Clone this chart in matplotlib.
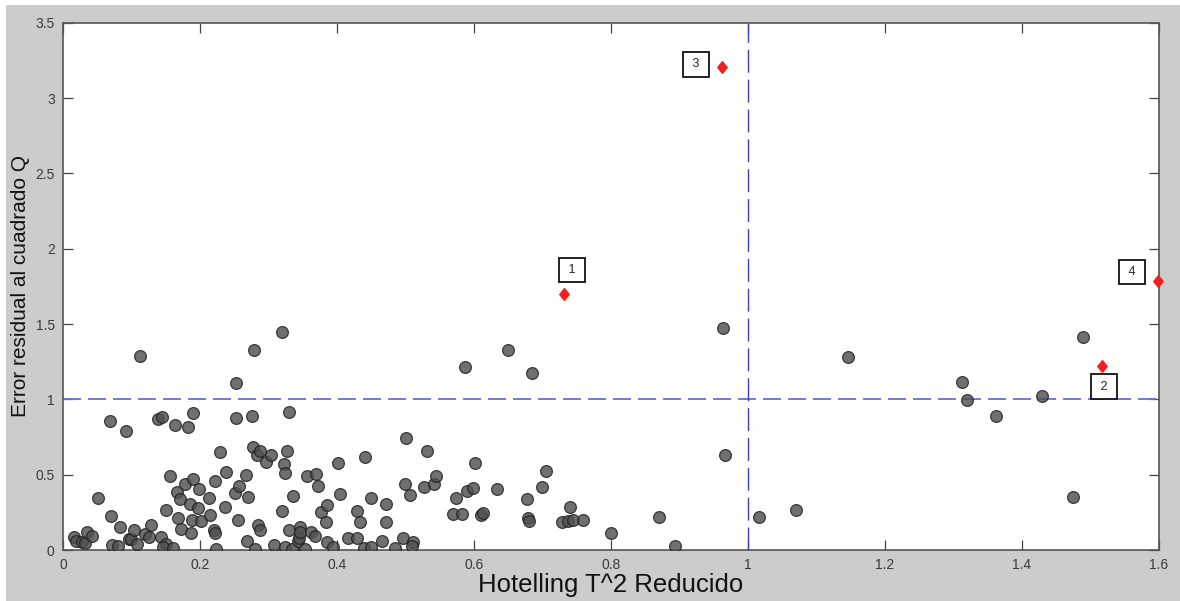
import matplotlib.pyplot as plt
from matplotlib.patches import Rectangle

# Hotelling T^2 (reduced) and residual Q for every sample
t2_values = [
    0.016, 0.0185, 0.028, 0.032, 0.0355, 0.042, 0.0516, 0.068, 0.070, 0.071,
    0.080, 0.083, 0.092, 0.096, 0.099, 0.1036, 0.1075,
    0.113, 0.119, 0.1255, 0.128, 0.138, 0.1445, 0.143, 0.150, 0.1465, 0.151,
    0.156, 0.161, 0.164, 0.167, 0.171, 0.168, 0.172, 0.1785, 0.182, 0.186,
    0.187, 0.188, 0.190, 0.190, 0.1965, 0.1985, 0.201,
    0.213, 0.214, 0.221, 0.222, 0.2225, 0.224, 0.2285, 0.237, 0.238, 0.251,
    0.2526, 0.253, 0.2555, 0.257, 0.267, 0.2695, 0.2686, 0.2755, 0.277, 0.2785,
    0.281, 0.283, 0.285, 0.287, 0.2876, 0.297, 0.303,
    0.3075, 0.319, 0.319, 0.322, 0.324, 0.3245, 0.327, 0.330, 0.330, 0.335,
    0.336, 0.343, 0.344, 0.346, 0.346, 0.353, 0.3557, 0.362, 0.368, 0.369,
    0.3727, 0.3766, 0.3835, 0.3854, 0.385, 0.394,
    0.401, 0.404, 0.4156, 0.4287, 0.4296, 0.4335, 0.439, 0.441, 0.449, 0.449,
    0.4657, 0.4715, 0.4715, 0.4847, 0.496, 0.4988, 0.501,
    0.507, 0.5114, 0.510, 0.5266, 0.531, 0.541, 0.5445, 0.5698, 0.573, 0.582,
    0.5875, 0.590, 0.599, 0.602, 0.6097, 0.6127, 0.634, 0.649, 0.678, 0.679,
    0.680, 0.6845, 0.699, 0.705,
    0.7285, 0.7377, 0.7397, 0.744, 0.7587, 0.800, 0.8696, 0.894, 0.9635, 0.966,
    1.0156, 1.070, 1.1455, 1.312, 1.3197, 1.3616, 1.429, 1.474, 1.4895,
]
q_values = [
    0.084, 0.062, 0.055, 0.044, 0.117, 0.095, 0.342, 0.854, 0.225, 0.033,
    0.025, 0.150, 0.790, 0.072, 0.076, 0.131, 0.043,
    1.287, 0.108, 0.085, 0.168, 0.870, 0.882, 0.088, 0.042, 0.020, 0.267,
    0.491, 0.013, 0.832, 0.386, 0.340, 0.210, 0.142, 0.440, 0.816, 0.308,
    0.110, 0.201, 0.907, 0.474, 0.276, 0.408, 0.190,
    0.345, 0.234, 0.132, 0.110, 0.459, 0.006, 0.649, 0.283, 0.520, 0.378,
    0.876, 1.106, 0.197, 0.426, 0.497, 0.351, 0.060, 0.892, 0.686, 1.325,
    0.006, 0.629, 0.168, 0.136, 0.660, 0.583, 0.629,
    0.034, 1.449, 0.262, 0.570, 0.509, 0.021, 0.658, 0.915, 0.136, 0.007,
    0.357, 0.061, 0.080, 0.152, 0.118, 0.008, 0.490, 0.118, 0.093, 0.502,
    0.425, 0.250, 0.188, 0.300, 0.051, 0.020,
    0.576, 0.372, 0.079, 0.079, 0.261, 0.183, 0.011, 0.620, 0.342, 0.022,
    0.057, 0.306, 0.183, 0.011, 0.078, 0.438, 0.745,
    0.365, 0.055, 0.029, 0.416, 0.659, 0.436, 0.493, 0.241, 0.343, 0.241,
    1.214, 0.391, 0.409, 0.577, 0.232, 0.243, 0.408, 1.329, 0.336, 0.210,
    0.192, 1.172, 0.416, 0.524,
    0.188, 0.192, 0.285, 0.201, 0.197, 0.115, 0.219, 0.025, 1.471, 0.628,
    0.217, 0.263, 1.281, 1.113, 0.995, 0.891, 1.024, 0.350, 1.413,
]

# flagged samples
outlier_t2 = [0.731, 1.517, 0.9614, 1.598]
outlier_q = [1.697, 1.221, 3.207, 1.785]
outlier_ids = ['1', '2', '3', '4']

# control limits
t2_limit = 1.0
q_limit = 1.0

x_ticks = [0, 0.2, 0.4, 0.6, 0.8, 1.0, 1.2, 1.4, 1.6]
x_tick_labels = ['0', '0.2', '0.4', '0.6', '0.8', '1', '1.2', '1.4', '1.6']
y_ticks = [0, 0.5, 1.0, 1.5, 2.0, 2.5, 3.0, 3.5]
y_tick_labels = ['0', '0.5', '1', '1.5', '2', '2.5', '3', '3.5']

plt.rcParams['font.family'] = ['Liberation Sans', 'DejaVu Sans']
plt.rcParams['lines.scale_dashes'] = False

fig = plt.figure(figsize=(11.8, 6.01), dpi=100)
fig.patch.set_facecolor('white')
fig.patches.append(Rectangle((6 / 1180, 0), 1, 1 - 5 / 601, transform=fig.transFigure,
                             facecolor='#cccccc', edgecolor='none', zorder=-1))

ax = fig.add_axes([63 / 1180, 51 / 601, 1096 / 1180, 527.3 / 601])
ax.set_facecolor('white')

ax.scatter(t2_values, q_values, s=72, c='#505050', alpha=0.82,
           edgecolors='#1e1e1e', linewidths=0.9, zorder=3)

ax.axhline(q_limit, color='#6b6bec', lw=1.3, dashes=(13, 5), zorder=2)
ax.axvline(t2_limit, color='#3c3cd8', lw=1.0, dashes=(16.5, 5), zorder=2)

# red diamonds for the flagged samples, each with a boxed number
diamond = [(0, -1), (0.8, 0), (0, 1), (-0.8, 0), (0, -1)]
ax.plot(outlier_t2, outlier_q, ls='none', marker=diamond, ms=8.5,
        color='#ee2020', clip_on=False, zorder=4)

label_offsets = [(5.8, 17.7), (1.2, -14.9), (-18.4, 1.8), (-18.6, 6.7)]
for x, y, lab, off in zip(outlier_t2, outlier_q, outlier_ids, label_offsets):
    ax.annotate(f' {lab} ', (x, y), xytext=off, textcoords='offset points',
                ha='center', va='center', fontsize=9, color='#222222',
                bbox=dict(boxstyle='square,pad=0.5', fc='white',
                          ec='#111111', lw=1.3), zorder=5)

ax.set_xlim(0, 1.6)
ax.set_ylim(0, 3.5)
ax.set_xticks(x_ticks)
ax.set_xticklabels(x_tick_labels)
ax.set_yticks(y_ticks)
ax.set_yticklabels(y_tick_labels)
ax.tick_params(direction='in', length=7.5, width=0.9, top=True, right=True,
               color='#444444', labelcolor='#3a3a3a', labelsize=10, pad=6)
for sp in ax.spines.values():
    sp.set_color('#555555')
    sp.set_linewidth(1.2)

ax.set_xlabel('Hotelling T^2 Reducido', fontsize=18.5, color='#111111')
ax.xaxis.set_label_coords(0.5, -0.0436)
ax.set_ylabel('Error residual al cuadrado Q', fontsize=15, color='#111111')
ax.yaxis.set_label_coords(-0.030, 0.5)

fig.savefig('out.png', dpi=100)
